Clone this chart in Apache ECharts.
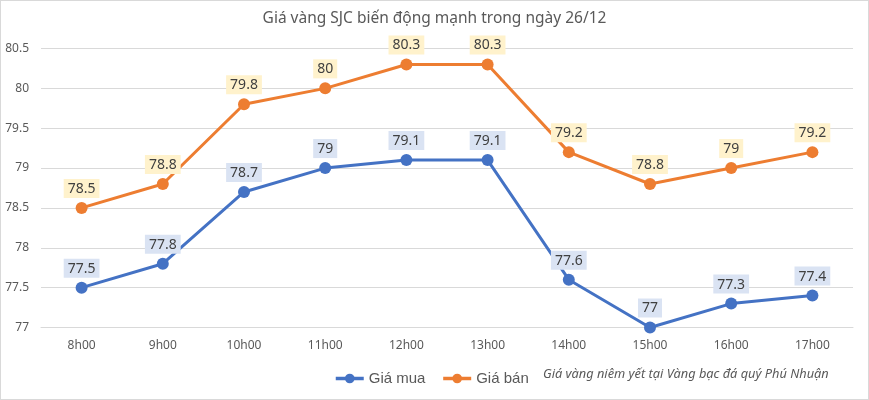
<!DOCTYPE html>
<html><head><meta charset="utf-8">
<script src="https://cdn.jsdelivr.net/npm/echarts@6/dist/echarts.min.js"></script>
<style>html,body{margin:0;padding:0;background:#fff}#c{width:869px;height:400px;position:absolute;left:0;top:0}#b{position:absolute;left:0;top:0;width:869px;height:400px;box-sizing:border-box;border:1px solid #d9d9d9;pointer-events:none}</style>
</head><body><div id="c"></div><div id="b"></div>
<script>
const categories = ['8h00','9h00','10h00','11h00','12h00','13h00','14h00','15h00','16h00','17h00'];
const giaMua = [77.5, 77.8, 78.7, 79, 79.1, 79.1, 77.6, 77, 77.3, 77.4];
const giaBan = [78.5, 78.8, 79.8, 80, 80.3, 80.3, 79.2, 78.8, 79, 79.2];
const titleText = 'Giá vàng SJC biến động mạnh trong ngày 26/12';
const noteText = 'Giá vàng niêm yết tại Vàng bạc đá quý Phú Nhuận';
const FONT = 'Noto Sans';
const chart = echarts.init(document.getElementById('c'));
function lbl(bg){return {show:true,position:'top',distance:4,color:'#404040',fontSize:14,fontFamily:FONT,backgroundColor:bg,padding:[3,4,2,4]};}
chart.setOption({
  animation:false,
  title:{text:titleText,left:'center',top:6,textStyle:{color:'#595959',fontSize:15.5,fontWeight:'normal',fontFamily:FONT}},
  legend:{left:329,top:366,itemWidth:28,itemHeight:12,itemGap:16,lineStyle:{width:3.5},textStyle:{color:'#595959',fontSize:15,fontFamily:'Liberation Sans'},data:['Giá mua','Giá bán']},
  graphic:[{type:'text',left:543,top:368,style:{text:noteText,fill:'#595959',font:'italic 12.8px "'+FONT+'"'}}],
  grid:{left:41,right:16,top:48.5,bottom:72.5,containLabel:false},
  xAxis:{type:'category',data:categories,boundaryGap:true,axisLine:{lineStyle:{color:'#d9d9d9'}},axisTick:{show:false},axisLabel:{color:'#595959',fontSize:12,fontFamily:FONT,margin:12}},
  yAxis:{type:'value',min:77,max:80.5,interval:0.5,axisLine:{show:false},axisTick:{show:false},splitLine:{lineStyle:{color:'#d9d9d9'}},axisLabel:{color:'#595959',fontSize:12,fontFamily:FONT,margin:12}},
  series:[
    {name:'Giá mua',type:'line',data:giaMua,symbol:'circle',symbolSize:12,itemStyle:{color:'#4472c4'},lineStyle:{width:3,color:'#4472c4'},label:lbl('#dae3f3')},
    {name:'Giá bán',type:'line',data:giaBan,symbol:'circle',symbolSize:12,itemStyle:{color:'#ed7d31'},lineStyle:{width:3,color:'#ed7d31'},label:lbl('#fff2cc')}
  ]
});
</script></body></html>
